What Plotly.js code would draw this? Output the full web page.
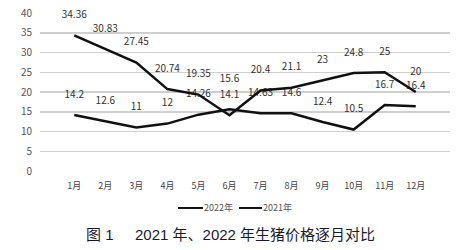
<!DOCTYPE html>
<html><head><meta charset="utf-8">
<script src="https://cdn.plot.ly/plotly-3.0.1.min.js"></script>
<style>html,body{margin:0;padding:0;background:#fff;}#c{width:468px;height:250px;}</style>
</head><body><div id="c"></div>
<script>
const months = ['1月','2月','3月','4月','5月','6月','7月','8月','9月','10月','11月','12月'];
const price2022 = [14.2, 12.6, 11, 12, 14.26, 15.6, 14.63, 14.6, 12.4, 10.5, 16.7, 16.4];
const price2021 = [34.36, 30.83, 27.45, 20.74, 19.35, 14.1, 20.4, 21.1, 23, 24.8, 25, 20];
const yTicks = [0, 5, 10, 15, 20, 25, 30, 35, 40];
const seriesNames = ['2022年', '2021年'];
const figLabel = '图 1';
const caption = '2021 年、2022 年生猪价格逐月对比';

const fontFam = '"Noto Sans CJK SC", "DejaVu Sans", sans-serif';
const capFam = '"Liberation Sans", "Noto Sans CJK SC", sans-serif';
function series(name, vals, raiseIdx) {
  // invisible markers only push the value labels above the line
  const sizes = vals.map((v, i) => (i === raiseIdx ? 38 : 22));
  return {
    x: months, y: vals, name: name, type: 'scatter', mode: 'lines+markers+text',
    line: {color: '#111', width: 2.5},
    marker: {size: sizes, color: 'rgba(0,0,0,0)', opacity: 0, line: {width: 0, color: 'rgba(0,0,0,0)'}},
    text: vals.map(String), textposition: 'top center',
    textfont: {family: fontFam, size: 10, color: '#333'},
    cliponaxis: false, hoverinfo: 'skip', showlegend: false
  };
}
const data = [series(seriesNames[0], price2022, 5), series(seriesNames[1], price2021, -1)];

// legend drawn manually (short line keys)
const legY = -0.234;
const legLines = [[0.3366, 0.3976], [0.4854, 0.5415]];
const shapes = legLines.map(p => ({type: 'line', xref: 'paper', yref: 'paper',
  x0: p[0], x1: p[1], y0: legY, y1: legY, line: {color: '#111', width: 2}}));
const annotations = legLines.map((p, i) => ({text: seriesNames[i], xref: 'paper', yref: 'paper',
  x: p[1], y: legY, xanchor: 'left', yanchor: 'middle', showarrow: false, xshift: -1,
  font: {family: fontFam, size: 9, color: '#555'}}));
annotations.push({text: figLabel, xref: 'paper', yref: 'paper', x: 0.1073, y: -0.405,
  xanchor: 'left', yanchor: 'middle', showarrow: false, font: {family: capFam, size: 15, color: '#1a1a2e'}});
annotations.push({text: caption, xref: 'paper', yref: 'paper', x: 0.2268, y: -0.405,
  xanchor: 'left', yanchor: 'middle', showarrow: false, font: {family: capFam, size: 15, color: '#1a1a2e'}});

const layout = {
  width: 468, height: 250,
  margin: {l: 40, r: 18, t: 13, b: 79},
  paper_bgcolor: '#fff', plot_bgcolor: '#fff',
  font: {family: fontFam, color: '#444', size: 10},
  showlegend: false,
  xaxis: {type: 'category', showgrid: false, zeroline: false, showline: false,
          ticks: '', tickfont: {size: 9, color: '#444'}, ticklabelstandoff: 8},
  yaxis: {range: [0, 40], tickvals: yTicks, showgrid: true, gridcolor: '#cfcfcf', gridwidth: 1.5,
          zeroline: false, showline: false, ticks: '', tickfont: {size: 10, color: '#555'},
          ticklabelstandoff: 7},
  shapes: shapes,
  annotations: annotations
};
Plotly.newPlot('c', data, layout, {displayModeBar: false, staticPlot: true});
</script></body></html>
